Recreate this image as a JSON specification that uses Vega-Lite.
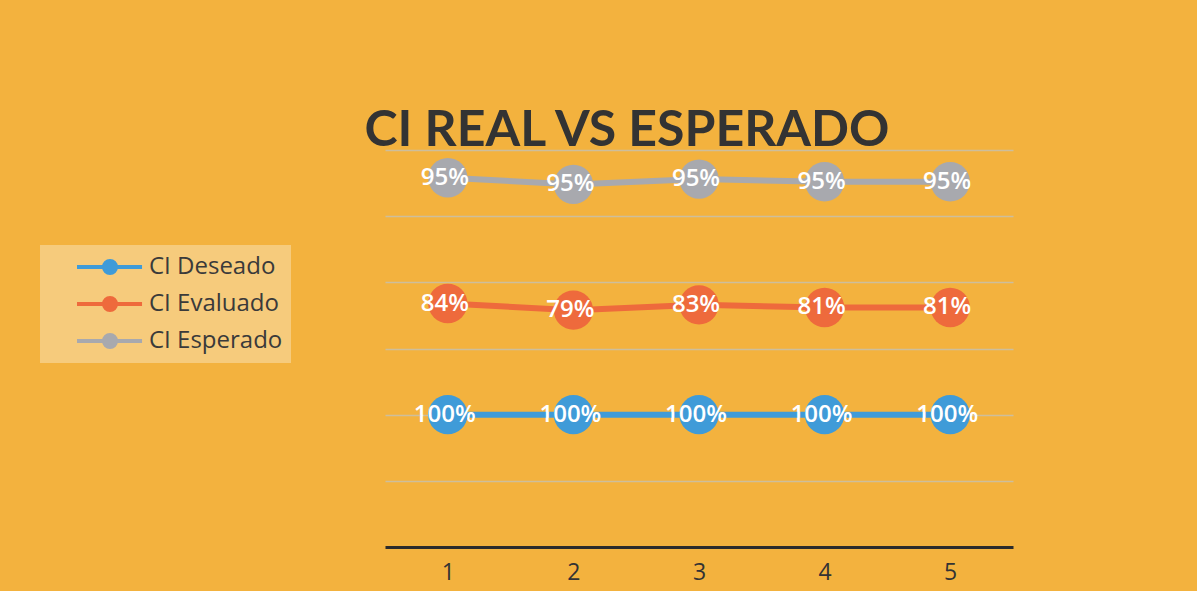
{
  "$schema": "https://vega.github.io/schema/vega-lite/v6.json",
  "width": 628,
  "height": 397,
  "autosize": {"type": "none"},
  "padding": {"left": 385, "top": 150, "right": 184, "bottom": 44},
  "background": "#F3B23E",
  "title": {
    "text": "CI REAL VS ESPERADO",
    "font": "Lato",
    "fontSize": 50,
    "fontWeight": "bold",
    "color": "#333333",
    "anchor": "middle",
    "frame": "group",
    "dx": -72,
    "offset": -6
  },
  "config": {
    "view": {"stroke": null},
    "font": "Lato"
  },
  "data": {
    "values": [
      {"serie": "CI Deseado", "ord": 1, "x": "1", "valor": 1.00},
      {"serie": "CI Deseado", "ord": 1, "x": "2", "valor": 1.00},
      {"serie": "CI Deseado", "ord": 1, "x": "3", "valor": 1.00},
      {"serie": "CI Deseado", "ord": 1, "x": "4", "valor": 1.00},
      {"serie": "CI Deseado", "ord": 1, "x": "5", "valor": 1.00},
      {"serie": "CI Evaluado", "ord": 2, "x": "1", "valor": 0.84},
      {"serie": "CI Evaluado", "ord": 2, "x": "2", "valor": 0.79},
      {"serie": "CI Evaluado", "ord": 2, "x": "3", "valor": 0.83},
      {"serie": "CI Evaluado", "ord": 2, "x": "4", "valor": 0.81},
      {"serie": "CI Evaluado", "ord": 2, "x": "5", "valor": 0.81},
      {"serie": "CI Esperado", "ord": 3, "x": "1", "valor": 0.95},
      {"serie": "CI Esperado", "ord": 3, "x": "2", "valor": 0.95},
      {"serie": "CI Esperado", "ord": 3, "x": "3", "valor": 0.95},
      {"serie": "CI Esperado", "ord": 3, "x": "4", "valor": 0.95},
      {"serie": "CI Esperado", "ord": 3, "x": "5", "valor": 0.95}
    ]
  },
  "transform": [
    {"stack": "valor", "groupby": ["x"], "sort": [{"field": "ord", "order": "ascending"}], "as": ["y0", "y1"]}
  ],
  "encoding": {
    "x": {
      "field": "x",
      "type": "ordinal",
      "scale": {"type": "point", "padding": 0.5},
      "axis": {
        "title": null,
        "labelAngle": 0,
        "labelFontSize": 23,
        "labelColor": "#333333",
        "labelFont": "Open Sans",
        "labelPadding": 14,
        "ticks": false,
        "grid": false,
        "domainColor": "#2b2b2b",
        "domainWidth": 3
      }
    },
    "y": {
      "field": "y1",
      "type": "quantitative",
      "scale": {"domain": [0, 3], "nice": false, "zero": true},
      "axis": {
        "title": null,
        "labels": false,
        "ticks": false,
        "domain": false,
        "values": [0.5, 1, 1.5, 2, 2.5, 3],
        "gridColor": "#CDBE9C",
        "gridWidth": 1.5
      }
    },
    "color": {
      "field": "serie",
      "type": "nominal",
      "scale": {
        "domain": ["CI Deseado", "CI Evaluado", "CI Esperado"],
        "range": ["#3F9BD8", "#EE6A3C", "#A8A9AE"]
      },
      "legend": {
        "title": null,
        "orient": "none",
        "legendX": -345,
        "legendY": 95,
        "direction": "vertical",
        "fillColor": "#F6CB7C",
        "padding": 8,
        "symbolType": "M1.25,0H6.67M3.5,0a0.5,0.5 0 1,0 1,0a0.5,0.5 0 1,0 -1,0",
        "symbolSize": 576,
        "symbolStrokeWidth": 4,
        "labelOffset": 73,
        "labelFontSize": 24,
        "labelFont": "Open Sans",
        "labelColor": "#3a3a3a",
        "rowPadding": 9,
        "labelLimit": 300
      }
    },
    "order": {"field": "x"}
  },
  "layer": [
    {"mark": {"type": "line", "strokeWidth": 6}},
    {"mark": {"type": "point", "filled": true, "shape": "circle", "size": 1550, "opacity": 1}},
    {
      "mark": {"type": "text", "color": "white", "fontSize": 24, "fontWeight": 600, "font": "Open Sans", "dx": -3},
      "encoding": {
        "text": {"field": "valor", "type": "quantitative", "format": ".0%"},
        "color": {"value": "white"}
      }
    }
  ]
}
